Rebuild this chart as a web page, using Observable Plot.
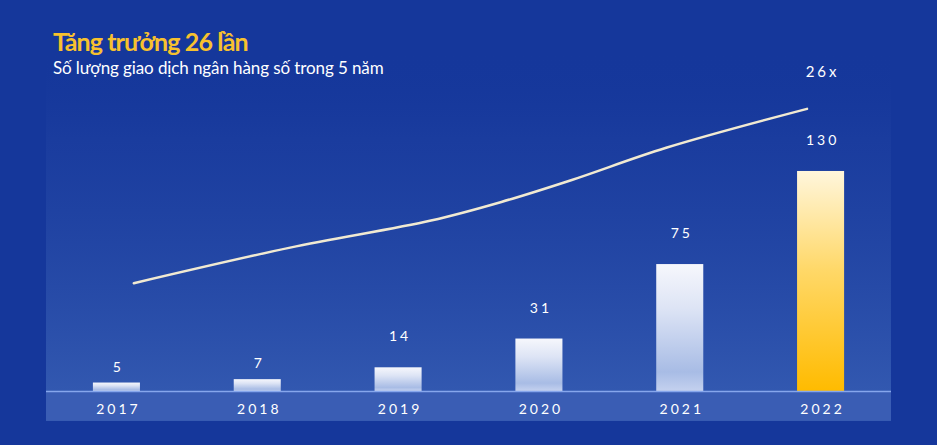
<!DOCTYPE html>
<html>
<head>
<meta charset="utf-8">
<script src="https://cdn.jsdelivr.net/npm/d3@7"></script>
<script src="https://cdn.jsdelivr.net/npm/@observablehq/plot@0.6"></script>
<style>
  html, body { margin: 0; padding: 0; background: #15379b; }
  #wrap { position: relative; width: 937px; height: 445px; overflow: hidden; background: #15379b; }
  #head { position: absolute; left: 53px; top: 0; font-family: Lato, "Open Sans", sans-serif; white-space: nowrap; }
  #title { position: absolute; left: 0; top: 26px; font-size: 25px; font-weight: 700; color: #f7c12e; letter-spacing: -0.9px; }
  #subtitle { position: absolute; left: 0; top: 57px; font-size: 17px; font-weight: 400; color: #ffffff; letter-spacing: -0.1px; }
  #chart svg text { font-family: Lato, "Open Sans", sans-serif; letter-spacing: 3px; }
</style>
</head>
<body>
<div id="wrap">
  <div id="chart"></div>
  <div id="head">
    <div id="title">Tăng trưởng 26 lần</div>
    <div id="subtitle">Số lượng giao dịch ngân hàng số trong 5 năm</div>
  </div>
</div>
<script>
// ---- data ----
const years = [2017, 2018, 2019, 2020, 2021, 2022];
const values = [5, 7, 14, 31, 75, 130];
const highlightYear = 2022;
// decorative growth curve (x in fractional years, y in same units as bars)
const trendX = [2017.12, 2018.23, 2019.23, 2019.73, 2020.23, 2020.90, 2021.90];
const trendY = [64, 85, 101, 112, 125, 144, 167];
const multipleLabel = "26x";

const data = years.map((year, i) => ({year, value: values[i]}));
const trend = trendX.map((x, i) => ({x, y: trendY[i]}));

const xMin = years[0] - 0.5;
const xMax = years[years.length - 1] + 0.5;
const halfBar = 0.167;
const yMax = 200;
const bandDepth = 17.7;

const plot = Plot.plot({
  width: 937,
  height: 445,
  marginLeft: 46,
  marginRight: 46,
  marginTop: 52.5,
  marginBottom: 54,
  style: { background: "transparent", color: "#ffffff", overflow: "visible" },
  x: { domain: [xMin, xMax], axis: null },
  y: { domain: [0, yMax], axis: null },
  marks: [
    // panel background
    Plot.rect([0], { x1: () => xMin, x2: () => xMax, y1: () => 0, y2: () => yMax, fill: "url(#panelGrad)" }),
    // axis band
    Plot.rect([0], { x1: () => xMin, x2: () => xMax, y1: () => -bandDepth, y2: () => 0, fill: "#3a5db4" }),
    // bars
    Plot.rectY(data.filter(d => d.year !== highlightYear), {
      x1: d => d.year - halfBar, x2: d => d.year + halfBar, y: "value", fill: "url(#whiteGrad)"
    }),
    Plot.rectY(data.filter(d => d.year === highlightYear), {
      x1: d => d.year - halfBar, x2: d => d.year + halfBar, y: "value", fill: "url(#goldGrad)"
    }),
    // baseline
    Plot.ruleY([0], { x1: xMin, x2: xMax, stroke: "#86a6ec", strokeWidth: 1.5 }),
    // growth curve
    Plot.line(trend, { x: "x", y: "y", curve: "catmull-rom", stroke: "#f1ead2", strokeWidth: 2.5 }),
    // value labels
    Plot.text(data.filter(d => d.value < 10), {
      x: "year", y: "value", text: d => String(d.value), dy: -16, dx: 1.5, fontSize: 14, fill: "#ffffff"
    }),
    Plot.text(data.filter(d => d.value >= 10), {
      x: "year", y: "value", text: d => String(d.value), dy: -31, dx: 1.5, fontSize: 14, fill: "#ffffff"
    }),
    // multiple label
    Plot.text([multipleLabel], {
      x: () => years[years.length - 1], y: () => trendY[trendY.length - 1], text: d => d,
      dy: -37, dx: 1.5, fontSize: 15, fill: "#ffffff"
    }),
    // x axis
    Plot.axisX(years, {
      tickSize: 0, tickPadding: 13, tickFormat: d => String(d), fontSize: 14, fill: "#ffffff", dx: 1.5
    })
  ]
});

const defs = d3.select(plot).insert("defs", ":first-child");
function grad(id, stops) {
  const g = defs.append("linearGradient").attr("id", id)
    .attr("x1", 0).attr("y1", 0).attr("x2", 0).attr("y2", 1);
  stops.forEach(([o, c, op]) => g.append("stop").attr("offset", o).attr("stop-color", c).attr("stop-opacity", op ?? 1));
}
grad("panelGrad", [[0, "#15379b", 0], [0.25, "#1d3fa0", 0.6], [1, "#3258b0", 1]]);
grad("whiteGrad", [[0, "#f6f7fc"], [0.35, "#dde4f5"], [0.85, "#a8bce5"], [1, "#c4d1ef"]]);
grad("goldGrad", [[0, "#fff6dc"], [0.45, "#ffd868"], [1, "#ffbb00"]]);

document.getElementById("chart").appendChild(plot);
</script>
</body>
</html>
